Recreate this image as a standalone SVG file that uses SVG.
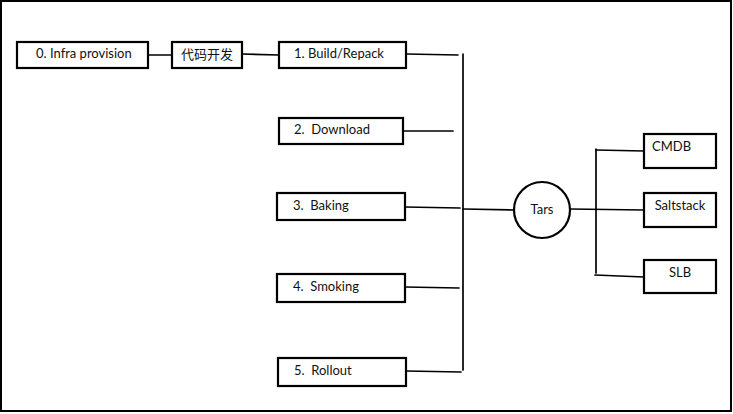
<svg xmlns="http://www.w3.org/2000/svg" width="733" height="414" viewBox="0 0 733 414">
<style>
.b{fill:#fff;stroke:#000;stroke-width:2.2}
.l{fill:none;stroke:#000;stroke-width:1.7;stroke-linecap:round}
.t{font-family:"Lato","Noto Sans CJK SC",sans-serif;font-size:13px;fill:#111;white-space:pre}
</style>
<rect x="1" y="1" width="730" height="410" fill="#fff" stroke="#000" stroke-width="2"/>
<g id="connectors">
<path class="l" d="M148 55 L172 55"/>
<path class="l" d="M242 54 L279 55"/>
<path class="l" d="M406 54 L458 55"/>
<path class="l" d="M463 54 L463 370"/>
<path class="l" d="M403 131 L453 131"/>
<path class="l" d="M405 207 L460 208"/>
<path class="l" d="M463 209 L514 210"/>
<path class="l" d="M405 287 L459 288"/>
<path class="l" d="M406 371 L461 372"/>
<path class="l" d="M570 209 L644 210"/>
<path class="l" d="M596 149 L596 273"/>
<path class="l" d="M596 150 L644 151"/>
<path class="l" d="M595 275 L644 277"/>
</g>
<g id="n0"><rect class="b" x="17" y="42" width="131" height="26"/><text class="t" x="36" y="58">0. Infra provision</text></g>
<g id="dev"><rect class="b" x="172" y="42" width="70" height="26"/><text class="t" x="207" y="59" text-anchor="middle">代码开发</text></g>
<g id="n1"><rect class="b" x="279" y="42" width="127" height="26"/><text class="t" x="294" y="58">1. Build/Repack</text></g>
<g id="n2"><rect class="b" x="279" y="118" width="124" height="26"/><text class="t" x="294" y="134" xml:space="preserve">2.  Download</text></g>
<g id="n3"><rect class="b" x="277" y="193" width="128" height="27"/><text class="t" x="293" y="210" xml:space="preserve">3.  Baking</text></g>
<g id="n4"><rect class="b" x="277" y="274" width="128" height="28"/><text class="t" x="293" y="291" xml:space="preserve">4.  Smoking</text></g>
<g id="n5"><rect class="b" x="278" y="358" width="128" height="28"/><text class="t" x="294" y="375" xml:space="preserve">5.  Rollout</text></g>
<g id="tars"><circle class="b" cx="542" cy="210" r="28"/><text class="t" x="542" y="214" text-anchor="middle">Tars</text></g>
<g id="cmdb"><rect class="b" x="644" y="134" width="72" height="34"/><text class="t" x="652" y="151">CMDB</text></g>
<g id="salt"><rect class="b" x="644" y="193" width="72" height="34"/><text class="t" x="680" y="210" text-anchor="middle">Saltstack</text></g>
<g id="slb"><rect class="b" x="644" y="260" width="72" height="33"/><text class="t" x="680" y="277" text-anchor="middle">SLB</text></g>
</svg>
